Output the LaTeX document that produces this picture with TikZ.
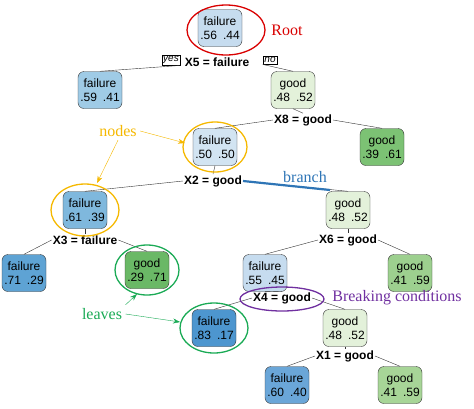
\documentclass[tikz,border=0pt]{standalone}
\usepackage{fontspec}
\usetikzlibrary{arrows.meta}
\setmainfont{Liberation Sans}
\newfontfamily\serifx{Liberation Serif}
\begin{document}
\begin{tikzpicture}[x=1pt,y=-1pt,
 leaf/.style={draw=black!80,rounded corners=6pt,minimum width=44pt,minimum height=37pt,align=center,font=\fontsize{12}{13.5}\selectfont,inner sep=1pt},
 sp/.style={font=\bfseries\fontsize{12}{13}\selectfont,inner sep=1pt},
 yn/.style={draw,font=\itshape\fontsize{10}{11}\selectfont,inner sep=1.5pt,fill=white},
 e/.style={draw=black!80,thin},
 ann/.style={font=\serifx\fontsize{16}{17}\selectfont},
 ring/.style={line width=1.3pt},
 arr/.style={-{Stealth[length=7pt,width=5pt]}}]
\useasboundingbox (0,0) rectangle (474,408);
\definecolor{fA}{HTML}{C6DCEF}\definecolor{fB}{HTML}{9FCBE6}\definecolor{fC}{HTML}{D2E4F2}
\definecolor{fD}{HTML}{7FB8DD}\definecolor{fE}{HTML}{5EA3D4}\definecolor{fF}{HTML}{4D96CF}
\definecolor{fG}{HTML}{6AA6D8}
\definecolor{gA}{HTML}{E3F1DA}\definecolor{gB}{HTML}{7CC274}\definecolor{gC}{HTML}{6AB866}
\definecolor{gD}{HTML}{9DD08F}\definecolor{gE}{HTML}{A7D597}
\definecolor{ry}{HTML}{F5B800}\definecolor{rg}{HTML}{1AAA55}\definecolor{rp}{HTML}{7030A0}
\definecolor{rb}{HTML}{2E75B6}
\node[leaf,fill=fA] (r) at (220,28) {failure\\.56\enspace.44};
\node[sp] (s5) at (217,62) {X5 = failure};
\node[yn] (yes) at (171,60) {yes};
\node[yn] (no) at (270,60) {no};
\node[leaf,fill=fB] (n1) at (100,90) {failure\\.59\enspace.41};
\node[leaf,fill=gA] (n2) at (293,90) {good\\.48\enspace.52};
\node[sp] (s8) at (303,120) {X8 = good};
\node[leaf,fill=fC] (n3) at (215,147) {failure\\.50\enspace.50};
\node[leaf,fill=gB] (n4) at (382,147) {good\\.39\enspace.61};
\node[sp] (s2) at (213,181) {X2 = good};
\node[leaf,fill=fD] (n5) at (85,210) {failure\\.61\enspace.39};
\node[leaf,fill=gA] (n6) at (348,210) {good\\.48\enspace.52};
\node[sp] (s3) at (85,240) {X3 = failure};
\node[leaf,fill=fE] (n7) at (24,273) {failure\\.71\enspace.29};
\node[leaf,fill=gC] (n8) at (147,270) {good\\.29\enspace.71};
\node[sp] (s6) at (348,240) {X6 = good};
\node[leaf,fill=fA] (n9) at (265,273) {failure\\.55\enspace.45};
\node[leaf,fill=gD] (n10) at (410,273) {good\\.41\enspace.59};
\node[sp] (s4) at (282,298) {X4 = good};
\node[leaf,fill=fF] (n11) at (214,328) {failure\\.83\enspace.17};
\node[leaf,fill=gA] (n12) at (345,328) {good\\.48\enspace.52};
\node[sp] (s1) at (345,356) {X1 = good};
\node[leaf,fill=fG] (n13) at (287,385) {failure\\.60\enspace.40};
\node[leaf,fill=gE] (n14) at (400,385) {good\\.41\enspace.59};
\draw[e] (yes.south east) -- (n1.north);
\draw[e] (no.south west) -- (n2.north);
\draw[e] (n2.south) -- (s8.north);
\draw[e] (s8.west) -- (n3.north);
\draw[e] (s8.east) -- (n4.north);
\draw[e] (n3.south) -- (s2.north);
\draw[e] (s2.west) -- (n5.north);
\draw[e] (s2.east) -- (n6.north);
\draw[e] (n5.south) -- (s3.north);
\draw[e] (s3.west) -- (n7.north);
\draw[e] (s3.east) -- (n8.north);
\draw[e] (n6.south) -- (s6.north);
\draw[e] (s6.west) -- (n9.north);
\draw[e] (s6.east) -- (n10.north);
\draw[e] (n9.south) -- (s4.north);
\draw[e] (s4.west) -- (n11.north);
\draw[e] (s4.east) -- (n12.north);
\draw[e] (n12.south) -- (s1.north);
\draw[e] (s1.west) -- (n13.north);
\draw[e] (s1.east) -- (n14.north);
% annotations
\draw[ring,red!85!black] (226,30) ellipse (39 and 25);
\node[ann,text=red!85!black] (lroot) at (287,30) {Root};
\draw[ring,ry] (215,147) ellipse (32 and 25);
\draw[ring,ry] (85,210) ellipse (34 and 26);
\node[ann,text=ry] (lnodes) at (118,131) {nodes};
\draw[ry,arr] (lnodes.east) -- (185,143);
\draw[ry,arr] (lnodes.south) -- (97,183);
\draw[line width=2.2pt,rb] (s2.east) -- (330,190);
\node[ann,text=rb] (lbranch) at (305,177) {branch};
\draw[ring,rg] (147,270) ellipse (32 and 25);
\draw[ring,rg] (214,328) ellipse (34 and 25);
\node[ann,text=rg] (lleaves) at (102,314) {leaves};
\draw[rg,arr] (lleaves.north east) -- (137,294);
\draw[rg,arr] (lleaves.east) -- (180,322);
\draw[ring,rp] (282,299) ellipse (42 and 12);
\node[ann,text=rp] (lbreak) at (397,298) {Breaking conditions};
\end{tikzpicture}
\end{document}
